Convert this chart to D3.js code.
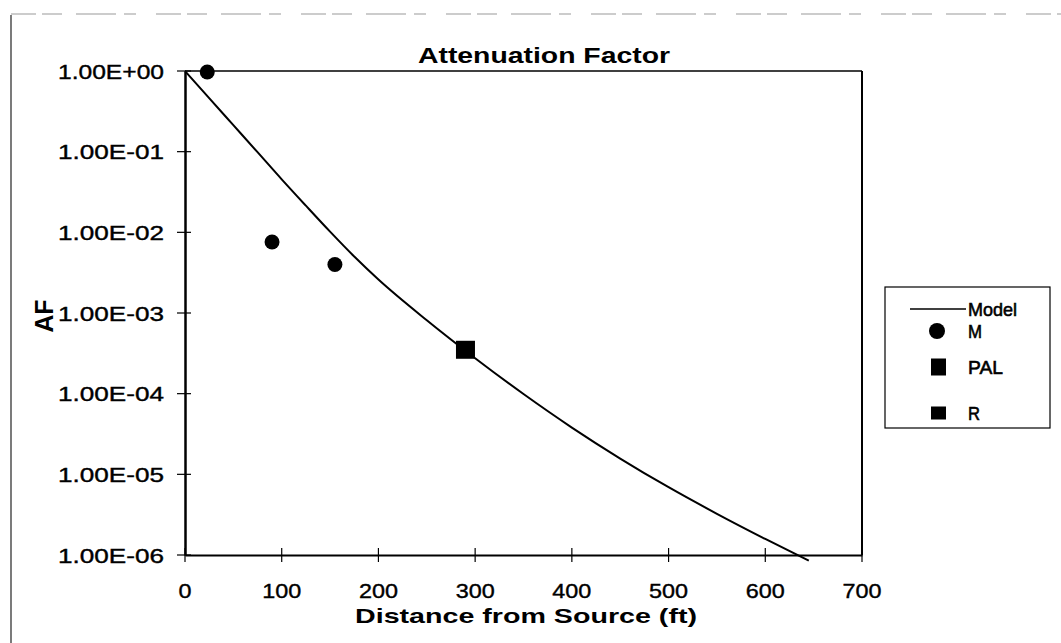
<!DOCTYPE html>
<html>
<head>
<meta charset="utf-8">
<script src="https://cdn.jsdelivr.net/npm/d3@7"></script>
<style>
  html, body { margin: 0; padding: 0; background: #fff; }
  svg { display: block; font-family: "Liberation Sans", Arial, sans-serif; }
</style>
</head>
<body>
<svg id="chart" width="1061" height="643"></svg>
<script>
// ---- data ----
const modelX  = [0, 25, 50, 75, 100, 125, 150, 175, 200, 250, 300, 350, 400, 450, 500, 550, 600, 645];
const modelAF = [1, 0.46, 0.213, 0.0986, 0.0454, 0.0214, 0.0102, 5.01e-3, 2.60e-3, 8.13e-4, 2.75e-4, 9.89e-5, 3.80e-5, 1.57e-5, 6.92e-6, 3.24e-6, 1.58e-6, 8.5e-7];
const mX   = [23, 90, 155];
const mAF  = [0.97, 7.6e-3, 4.0e-3];
const palX  = [290];
const palAF = [3.5e-4];
const rX  = [290];
const rAF = [3.5e-4];
const xTicks = [0, 100, 200, 300, 400, 500, 600, 700];
const yTicks = [1, 1e-1, 1e-2, 1e-3, 1e-4, 1e-5, 1e-6];
const yTickLabels = ["1.00E+00", "1.00E-01", "1.00E-02", "1.00E-03", "1.00E-04", "1.00E-05", "1.00E-06"];
const titleText = "Attenuation Factor";
const xTitle = "Distance from Source (ft)";
const yTitle = "AF";
const legendNames = ["Model", "M", "PAL", "R"];

// ---- layout ----
const L = 185, R = 862, T = 71, B = 555;
const svg = d3.select("#chart");

const x = d3.scaleLinear().domain([0, 700]).range([L, R]);
const y = d3.scaleLog().domain([1e-6, 1]).range([B, T]);

// outer frame (scanned page edges)
svg.append("line").attr("x1", 11).attr("x2", 11).attr("y1", 15).attr("y2", 643)
  .attr("stroke", "#222").attr("stroke-width", 1.2);
svg.append("line").attr("x1", 11).attr("x2", 1061).attr("y1", 14).attr("y2", 14)
  .attr("stroke", "#999").attr("stroke-width", 1).attr("stroke-dasharray", "25,6,20,14,40,8,12,20");

// plot border (top & right)
svg.append("line").attr("x1", L).attr("x2", R).attr("y1", T).attr("y2", T)
  .attr("stroke", "#000").attr("stroke-width", 1.6);
svg.append("line").attr("x1", R).attr("x2", R).attr("y1", T).attr("y2", B)
  .attr("stroke", "#000").attr("stroke-width", 2);

// axes
const xAxis = d3.axisBottom(x).tickValues(xTicks).tickSize(0).tickFormat("");
const yAxis = d3.axisLeft(y).tickValues(yTicks).tickSize(0).tickFormat("");
svg.append("g").attr("transform", `translate(0,${B})`).call(xAxis)
  .call(g => g.select(".domain").attr("stroke-width", 2.2));
svg.append("g").attr("transform", `translate(${L},0)`).call(yAxis)
  .call(g => g.select(".domain").attr("stroke-width", 2.5));

// crossing ticks
svg.append("g").selectAll("line").data(xTicks).join("line")
  .attr("x1", d => x(d)).attr("x2", d => x(d))
  .attr("y1", B - 7).attr("y2", B + 7)
  .attr("stroke", "#000").attr("stroke-width", 1.2);
svg.append("g").selectAll("line").data(yTicks).join("line")
  .attr("x1", L - 8).attr("x2", L + 6)
  .attr("y1", d => y(d)).attr("y2", d => y(d))
  .attr("stroke", "#000").attr("stroke-width", 1.2);

// tick labels
svg.append("g").selectAll("text").data(xTicks).join("text")
  .attr("x", d => x(d)).attr("y", 598)
  .attr("text-anchor", "middle")
  .attr("font-size", 21)
  .attr("stroke", "#000").attr("stroke-width", 0.4)
  .attr("textLength", d => String(d).length * 13)
  .attr("lengthAdjust", "spacingAndGlyphs")
  .text(d => String(d));

svg.append("g").selectAll("text").data(yTicks).join("text")
  .attr("x", 164).attr("y", d => y(d)).attr("dy", "0.36em")
  .attr("text-anchor", "end")
  .attr("font-size", 21)
  .attr("stroke", "#000").attr("stroke-width", 0.4)
  .attr("textLength", 106)
  .attr("lengthAdjust", "spacingAndGlyphs")
  .text((d, i) => yTickLabels[i]);

// titles
svg.append("text").attr("x", 544).attr("y", 63).attr("text-anchor", "middle")
  .attr("font-size", 22).attr("font-weight", "bold")
  .attr("textLength", 252).attr("lengthAdjust", "spacingAndGlyphs")
  .text(titleText);
svg.append("text").attr("x", 526).attr("y", 623).attr("text-anchor", "middle")
  .attr("font-size", 21).attr("font-weight", "bold")
  .attr("textLength", 342).attr("lengthAdjust", "spacingAndGlyphs")
  .text(xTitle);
svg.append("text").attr("transform", "translate(53,316) rotate(-90)")
  .attr("text-anchor", "middle")
  .attr("font-size", 26).attr("font-weight", "bold")
  .attr("textLength", 33).attr("lengthAdjust", "spacingAndGlyphs")
  .text(yTitle);

// model curve
const modelData = modelX.map((d, i) => [d, modelAF[i]]);
svg.append("path").datum(modelData)
  .attr("fill", "none").attr("stroke", "#000").attr("stroke-width", 2)
  .attr("d", d3.line().x(d => x(d[0])).y(d => y(d[1])).curve(d3.curveMonotoneX));

// R markers (small squares)
svg.append("g").selectAll("rect").data(rX.map((d, i) => [d, rAF[i]])).join("rect")
  .attr("x", d => x(d[0]) - 7).attr("y", d => y(d[1]) - 7)
  .attr("width", 14).attr("height", 14).attr("fill", "#000");
// PAL markers (big squares)
svg.append("g").selectAll("rect").data(palX.map((d, i) => [d, palAF[i]])).join("rect")
  .attr("x", d => x(d[0]) - 9.5).attr("y", d => y(d[1]) - 9)
  .attr("width", 19).attr("height", 18).attr("fill", "#000");
// M markers (circles)
svg.append("g").selectAll("circle").data(mX.map((d, i) => [d, mAF[i]])).join("circle")
  .attr("cx", d => x(d[0])).attr("cy", d => y(d[1])).attr("r", 7.5).attr("fill", "#000");

// legend
const lg = svg.append("g");
lg.append("rect").attr("x", 885).attr("y", 287).attr("width", 165).attr("height", 141)
  .attr("fill", "#fff").attr("stroke", "#000").attr("stroke-width", 1.2);
const legendRowY = [309, 331, 367, 413];
const legendTextW = [49, 14, 35, 12];
lg.append("line").attr("x1", 910).attr("x2", 966).attr("y1", legendRowY[0]).attr("y2", legendRowY[0])
  .attr("stroke", "#000").attr("stroke-width", 1.5);
lg.append("circle").attr("cx", 937).attr("cy", legendRowY[1]).attr("r", 8).attr("fill", "#000");
lg.append("rect").attr("x", 931).attr("y", legendRowY[2] - 8.5).attr("width", 15).attr("height", 17).attr("fill", "#000");
lg.append("rect").attr("x", 931).attr("y", legendRowY[3] - 6.5).attr("width", 15).attr("height", 13).attr("fill", "#000");
lg.selectAll("text.lt").data(legendNames).join("text").attr("class", "lt")
  .attr("x", 968).attr("y", (d, i) => legendRowY[i]).attr("dy", "0.36em")
  .attr("font-size", 19)
  .attr("stroke", "#000").attr("stroke-width", 0.6)
  .attr("textLength", (d, i) => legendTextW[i]).attr("lengthAdjust", "spacingAndGlyphs")
  .text(d => d);
</script>
</body>
</html>
